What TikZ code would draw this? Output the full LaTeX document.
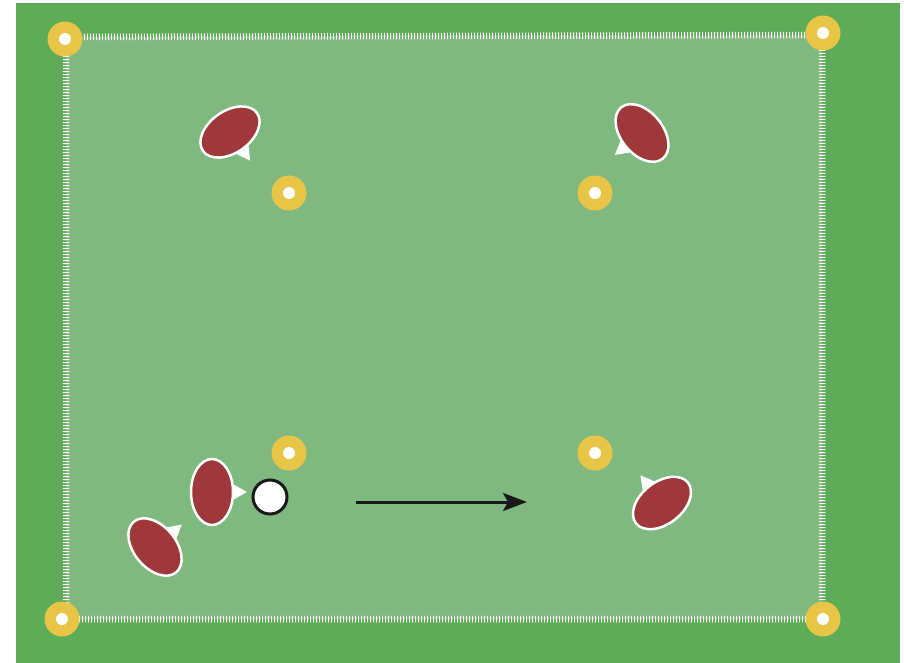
\documentclass[tikz,border=0pt]{standalone}
\usetikzlibrary{arrows.meta}
\definecolor{pitchdark}{HTML}{5EAB58}
\definecolor{pitchlight}{HTML}{80B97F}
\definecolor{coneyellow}{HTML}{E8C547}
\definecolor{playerred}{HTML}{A0373A}
\tikzset{
  cone/.style={circle, fill=coneyellow, minimum size=35pt, inner sep=0pt, outer sep=0pt,
    path picture={\fill[white] (path picture bounding box.center) circle (6pt);}},
  ballnode/.style={circle, fill=white, draw=black!90, line width=3pt, minimum size=34pt, inner sep=0pt},
  boundary/.style={draw=white, line width=6.5pt, dash pattern=on 1pt off 2pt},
  movearrow/.style={draw=black!90, line width=3pt, -{Stealth[length=24pt,width=18pt,inset=5pt]}},
  player/.pic={
    \fill[white] (-14,10) -- (0,35) -- (14,10) -- cycle;
    \filldraw[fill=playerred, draw=white, line width=2.5pt] (0,0) ellipse [x radius=33, y radius=21];
  }
}
\begin{document}
\begin{tikzpicture}[x=1pt, y=1pt]
\useasboundingbox (0,0) rectangle (904,-663);
\fill[white] (0,0) rectangle (904,-663);
\fill[pitchdark] (16,-3) rectangle (900,-663);
% field
\coordinate (tl) at (66,-37);
\coordinate (tr) at (822,-35);
\coordinate (br) at (822,-619);
\coordinate (bl) at (66,-619);
\fill[pitchlight] (tl) -- (tr) -- (br) -- (bl) -- cycle;
\draw[boundary] (tl) -- (tr) -- (br) -- (bl) -- cycle;
% corner cones
\node[cone] (c1) at (65,-39) {};
\node[cone] (c2) at (823,-33) {};
\node[cone] (c3) at (62,-619) {};
\node[cone] (c4) at (823,-619) {};
% inner cones
\node[cone] (c5) at (289,-193) {};
\node[cone] (c6) at (595,-193) {};
\node[cone] (c7) at (289,-453) {};
\node[cone] (c8) at (595,-453) {};
% players
\pic[rotate=-145] (p1) at (230,-132) {player};
\pic[rotate=129] (p2) at (642,-133) {player};
\pic[rotate=-90] (p3) at (212,-492) {player};
\pic[rotate=-50] (p4) at (155,-547) {player};
\pic[rotate=38] (p5) at (662,-503) {player};
% ball
\node[ballnode] (ball) at (270,-497) {};
% arrow
\coordinate (a1) at (356,-502);
\coordinate (a2) at (527,-502);
\draw[movearrow] (a1) -- (a2);
\end{tikzpicture}
\end{document}
